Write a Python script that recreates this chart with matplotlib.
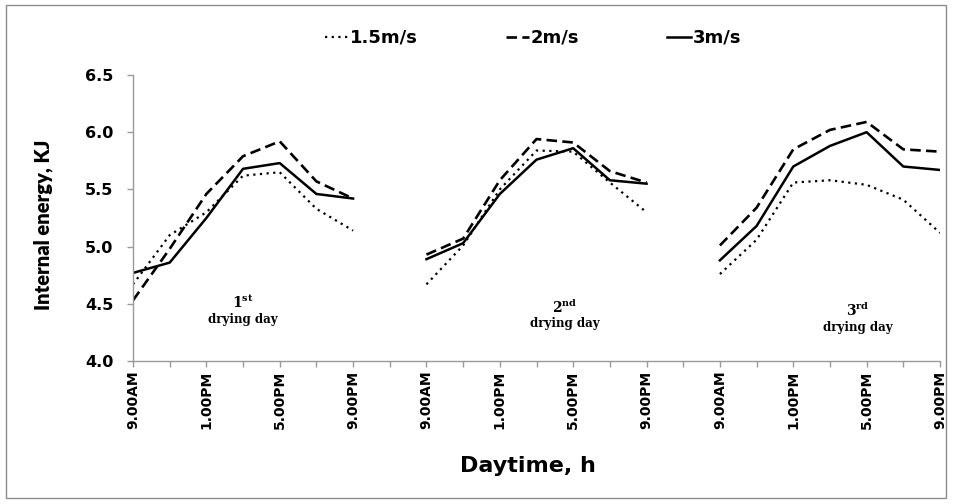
import numpy as np
import matplotlib
matplotlib.use("Agg")
import matplotlib.pyplot as plt
from matplotlib.patches import Rectangle

nan = np.nan

# 23 category slots: 3 drying days of 7 readings (every 2 h) with one empty slot between days
tick_labels = ["9.00AM", "", "1.00PM", "", "5.00PM", "", "9.00PM", "",
               "9.00AM", "", "1.00PM", "", "5.00PM", "", "9.00PM", "",
               "9.00AM", "", "1.00PM", "", "5.00PM", "", "9.00PM"]

v15 = [4.67, 5.10, 5.30, 5.62, 5.65, 5.33, 5.14, nan,
       4.67, 5.01, 5.50, 5.84, 5.83, 5.56, 5.30, nan,
       4.76, 5.06, 5.56, 5.58, 5.54, 5.41, 5.12]
v2 = [4.53, 4.98, 5.46, 5.79, 5.92, 5.57, 5.42, nan,
      4.93, 5.07, 5.58, 5.94, 5.91, 5.66, 5.56, nan,
      5.01, 5.34, 5.85, 6.02, 6.09, 5.85, 5.83]
v3 = [4.77, 4.86, 5.25, 5.68, 5.73, 5.46, 5.42, nan,
      4.89, 5.03, 5.46, 5.76, 5.86, 5.58, 5.55, nan,
      4.88, 5.18, 5.70, 5.88, 6.00, 5.70, 5.67]

day_notes = ["1", "2", "3"]
day_sup = ["st", "nd", "rd"]

plt.rcParams['mathtext.fontset'] = 'dejavuserif'

fig = plt.figure(figsize=(9.54, 5.04), dpi=100)
ax = fig.add_axes([133/954, 1-361/504, (940-133)/954, (361-75)/504])

x = np.arange(len(tick_labels))
ax.plot(x, v15, color='black', linestyle=(0, (1, 2.0)), linewidth=1.6, label='1.5m/s')
ax.plot(x, v2, color='black', linestyle=(0, (4, 2)), linewidth=1.9, label='2m/s')
ax.plot(x, v3, color='black', linestyle='-', linewidth=1.8, label='3m/s')

ax.set_xlim(0, len(tick_labels)-1)
ax.set_ylim(4.0, 6.5)
ax.set_yticks(np.arange(4.0, 6.51, 0.5))
ax.set_yticklabels(["%.1f" % v for v in np.arange(4.0, 6.51, 0.5)],
                   fontfamily='DejaVu Sans', fontweight='bold', fontsize=11.5)
ax.set_xticks(x)
ax.set_xticklabels(tick_labels, rotation=90, fontfamily='DejaVu Sans', fontweight='bold', fontsize=10)

for s in ['top', 'right']:
    ax.spines[s].set_visible(False)
for s in ['left', 'bottom']:
    ax.spines[s].set_color('#9a9a9a')
    ax.spines[s].set_linewidth(1.0)
ax.tick_params(axis='both', direction='out', length=4, color='#9a9a9a', width=1.0)
ax.tick_params(axis='y', pad=10)
ax.tick_params(axis='x', pad=3)

leg = ax.legend(loc='center left', bbox_to_anchor=(325/954, 1-38/504), bbox_transform=fig.transFigure,
                ncol=3, frameon=False, handlelength=1.3, handletextpad=0.1, columnspacing=4.85,
                borderpad=0, borderaxespad=0,
                prop={'family': 'DejaVu Sans', 'weight': 'bold', 'size': 13})

fig.text(43/954, 1-225/504, "Internal energy, KJ", rotation=90, ha='center', va='center',
         fontfamily='Lato', fontweight='heavy', fontsize=14.5)
fig.text(528/954, 1-466/504, "Daytime, h", ha='center', va='center',
         fontfamily='DejaVu Sans', fontweight='bold', fontsize=16)

note_pos = [(243, 302, 319), (565, 307, 324), (858, 310, 327)]
for (px, py1, py2), n, sup in zip(note_pos, day_notes, day_sup):
    fig.text(px/954, 1-py1/504, r"$\mathbf{%s^{%s}}$" % (n, sup), ha='center', va='center', fontsize=10)
    fig.text(px/954, 1-py2/504, "drying day", ha='center', va='center',
             fontfamily='DejaVu Serif', fontweight='bold', fontsize=8.5)

fig.patches.append(Rectangle((6/954, 1-498/504), (946-6)/954, (498-5)/504, transform=fig.transFigure,
                             fill=False, edgecolor='#8c8c8c', linewidth=1.0))

fig.savefig("out.png", dpi=100)
